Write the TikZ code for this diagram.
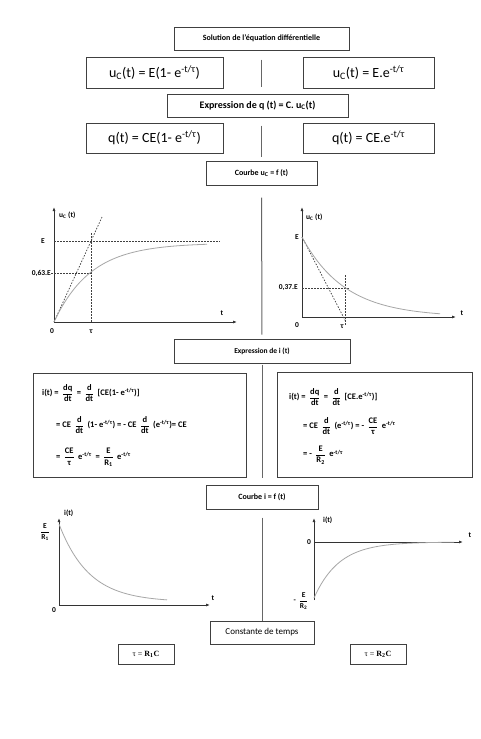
\documentclass[tikz,border=0pt]{standalone}
\usepackage{fontspec}
\setmainfont{Carlito}
\newfontfamily\timesfont{Liberation Serif}
\usetikzlibrary{arrows.meta}
\newcommand{\qfrac}[2]{\,$\displaystyle\frac{\mbox{#1}}{\mbox{#2}}$\,}
\newcommand{\ex}{e\textsuperscript{-t/τ}}
\begin{document}
\begin{tikzpicture}[
  x=1pt, y=-1pt,
  box/.style={draw=black!75,line width=1pt,inner sep=0pt,align=center},
  divider/.style={draw=black!60,line width=1pt},
  axis/.style={draw=black!80,line width=0.9pt,-{Latex[length=4pt,width=3pt]}},
  curve/.style={draw=black!35,line width=0.8pt},
  guide/.style={draw=black!75,line width=0.7pt,dash pattern=on 1.5pt off 1.5pt},
  lbl/.style={font=\bfseries\fontsize{7.5}{8}\selectfont,inner sep=1pt},
  eq/.style={font=\bfseries\fontsize{8.5}{10}\selectfont,anchor=west,inner sep=0pt},
  big/.style={font=\fontsize{14}{16}\selectfont},
  head/.style={font=\bfseries\fontsize{8}{10}\selectfont}
]
\fill[white] (0,0) rectangle (480,739);
\useasboundingbox (0,0) rectangle (480,739);

\node[box,head,minimum width=175,minimum height=23] (title) at (261.5,38.5) {Solution de l'équation différentielle};
\node[box,big,minimum width=137,minimum height=31] (uc1) at (154.5,72.5) {u\textsubscript{C}(t) = E(1- e\textsuperscript{-t/τ})};
\node[box,big,minimum width=131,minimum height=31] (uc2) at (368.5,72.5) {u\textsubscript{C}(t) = E.e\textsuperscript{-t/τ}};
\node[box,head,font=\bfseries\fontsize{10}{12}\selectfont,minimum width=181,minimum height=23] (exprq) at (257.5,105.5) {Expression de q (t) = C. u\textsubscript{C}(t)};
\node[box,big,minimum width=137,minimum height=30] (q1) at (154.5,138) {q(t) = CE(1- e\textsuperscript{-t/τ})};
\node[box,big,minimum width=131,minimum height=30] (q2) at (368.5,138) {q(t) = CE.e\textsuperscript{-t/τ}};
\node[box,head,minimum width=111,minimum height=24] (courbeuc) at (261.5,173) {Courbe u\textsubscript{C} = f (t)};
\node[box,head,font=\bfseries\fontsize{7.5}{9}\selectfont,minimum width=176,minimum height=24] (expri) at (262,351) {Expression de i (t)};
\node[box,minimum width=213,minimum height=104] (ibox1) at (139.5,425) {};
\node[box,minimum width=195,minimum height=105] (ibox2) at (374.5,424.5) {};
\node[box,head,minimum width=112,minimum height=24] (courbei) at (262,497) {Courbe i = f (t)};
\node[box,font=\fontsize{9}{11}\selectfont,minimum width=104,minimum height=23] (constante) at (262,632.5) {Constante de temps};
\node[box,font=\timesfont\fontsize{8}{10}\selectfont,minimum width=56,minimum height=20] (tau1) at (146,654) {τ = \textbf{R\textsubscript{1}C}};
\node[box,font=\timesfont\fontsize{8}{10}\selectfont,minimum width=56,minimum height=20] (tau2) at (378,654) {τ = \textbf{R\textsubscript{2}C}};

\draw[divider,shorten <=9pt,shorten >=7pt] (title.south) -- (title.south |- exprq.north);
\draw[divider,shorten <=8pt,shorten >=4pt] (exprq.south -| courbeuc.north) -- (courbeuc.north);
\draw[divider,shorten <=12pt,shorten >=4pt] (courbeuc.south) -- (expri.north);
\draw[divider,shorten <=1pt,shorten >=7pt] (expri.south) -- (courbei.north);
\draw[divider,shorten <=8pt] (courbei.south) -- (constante.north);

\node[eq] (eqa1) at (42,393) {i(t) = \qfrac{dq}{dt} = \qfrac{d}{dt} [CE(1- \ex)]};
\node[eq] (eqa2) at (56,425) {= CE \qfrac{d}{dt} (1- \ex) = - CE \qfrac{d}{dt} (\ex)= CE};
\node[eq] (eqa3) at (56,457) {= \qfrac{CE}{τ} \ex\ \ = \qfrac{E}{R\textsubscript{1}} \ex};
\node[eq] (eqb1) at (289,397) {i(t) = \qfrac{dq}{dt} = \qfrac{d}{dt} [CE.\ex)]};
\node[eq] (eqb2) at (303,426) {= CE \qfrac{d}{dt} (\ex) = - \qfrac{CE}{τ} \ex};
\node[eq] (eqb3) at (303,455) {= - \qfrac{E}{R\textsubscript{2}} \ex};

\coordinate (o1) at (54,322);
\coordinate (o1y) at (54,207);
\coordinate (o1x) at (237,322);
\draw[axis] (o1) -- (o1y);
\draw[axis] (o1) -- (o1x);
\draw[guide] (54,241) -- (220,241);
\draw[guide] (51,273) -- (91,273);
\draw[guide] (91,233) -- (91,322);
\draw[guide] (o1) -- (102,217);
\draw[curve] plot[domain=0:153,samples=60] (54+\x,{322-79*(1-exp(-\x/37))});
\node[lbl,anchor=west] (uclab1) at (58,215) {u\textsubscript{C} (t)};
\node[lbl] (e1) at (43,241) {E};
\node[lbl,anchor=east] (e63) at (52,273) {0,63.E};
\node[lbl] (t1) at (222,313) {t};
\node[lbl] (z1) at (52,331) {0};
\node[lbl] (tau1lab) at (91,332) {τ};

\coordinate (o2) at (302,317);
\coordinate (o2y) at (302,207);
\coordinate (o2x) at (456,317);
\draw[axis] (o2) -- (o2y);
\draw[axis] (o2) -- (o2x);
\draw[guide] (302,288) -- (350,288);
\draw[guide] (345,275) -- (345,325);
\draw[guide] (302,237) -- (346,322);
\draw[curve] plot[domain=0:138,samples=60] (302+\x,{317-80*exp(-\x/43)});
\node[lbl,anchor=west] (uclab2) at (305,217) {u\textsubscript{C} (t)};
\node[lbl,anchor=east] (e2) at (300,237) {E};
\node[lbl,anchor=east] (e37) at (299,288) {0,37.E};
\node[lbl] (t2) at (462,313) {t};
\node[lbl] (z2) at (297,325) {0};
\node[lbl] (tau2lab) at (342,327) {τ};

\coordinate (o3) at (59,605);
\coordinate (o3y) at (59,518);
\coordinate (o3x) at (210,605);
\draw[axis] (o3) -- (o3y);
\draw[axis] (o3) -- (o3x);
\draw[curve] plot[domain=0:108,samples=60] (59+\x,{602-78*exp(-\x/30)});
\node[lbl,anchor=west] (ilab1) at (63,513) {i(t)};
\node[lbl] (er1) at (45,532) {\qfrac{E}{R\textsubscript{1}}};
\node[lbl] (z3) at (54,610) {0};
\node[lbl] (t3) at (213,598) {t};

\coordinate (o4) at (314,542);
\coordinate (o4b) at (314,600);
\coordinate (o4y) at (314,518);
\coordinate (o4x) at (463,542);
\draw[axis] (o4b) -- (o4y);
\draw[axis] (o4) -- (o4x);
\draw[curve] plot[domain=0:140,samples=60] (314+\x,{542+56*exp(-\x/25)});
\node[lbl,anchor=west] (ilab2) at (322,520) {i(t)};
\node[lbl,anchor=east] (z4) at (312,542) {0};
\node[lbl] (t4) at (470,535) {t};
\node[lbl,anchor=east] (er2) at (311,601) {- \qfrac{E}{R\textsubscript{2}}};
\end{tikzpicture}
\end{document}
